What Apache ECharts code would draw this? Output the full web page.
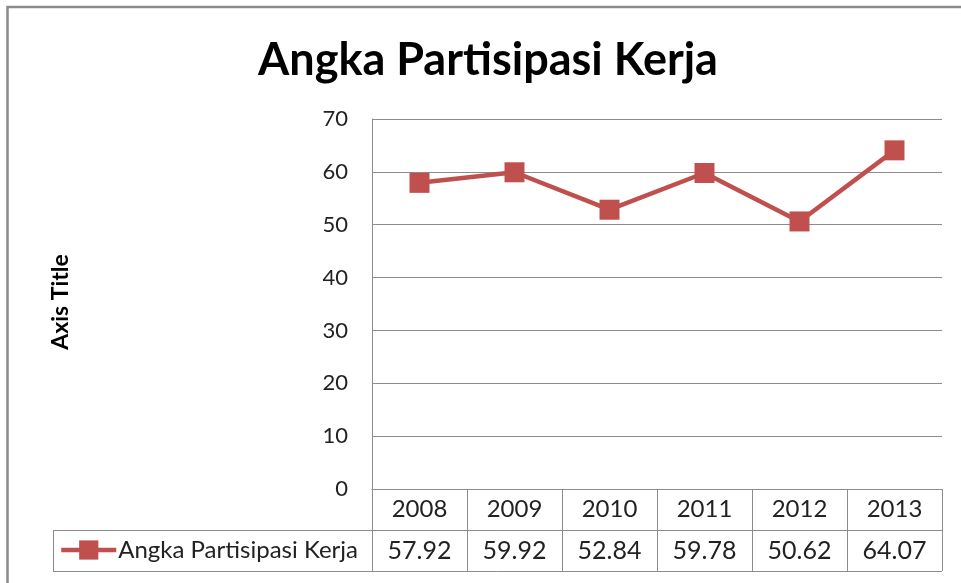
<!DOCTYPE html>
<html>
<head>
<meta charset="utf-8">
<script src="https://cdn.jsdelivr.net/npm/echarts@6/dist/echarts.min.js"></script>
<style>
  html, body { margin: 0; padding: 0; background: #ffffff; }
  #chart { width: 961px; height: 583px; }
</style>
</head>
<body>
<div id="chart"></div>
<script>
// Data
const chartTitle = 'Angka Partisipasi Kerja';
const seriesName = 'Angka Partisipasi Kerja';
const yAxisTitle = 'Axis Title';
const years = ['2008', '2009', '2010', '2011', '2012', '2013'];
const rates = [57.92, 59.92, 52.84, 59.78, 50.62, 64.07];
const yMin = 0;
const yMax = 70;
const yStep = 10;

// Layout
const FONT = 'Lato, "Open Sans", sans-serif';
const W = 961, H = 583;
const plot = { left: 372, right: 942, top: 119, bottom: 489 };
const rowH = 41;
const tableLeft = 53;
const gridColor = '#8c8c8c';
const textColor = '#222222';
const lineColor = '#C0504D';

const chart = echarts.init(document.getElementById('chart'), null, { renderer: 'canvas' });

const rowTop = plot.bottom + rowH;      // top of the value row
const rowBottom = plot.bottom + 2 * rowH;

chart.setOption({
  animation: false,
  backgroundColor: '#ffffff',
  grid: {
    left: plot.left,
    right: W - plot.right,
    top: plot.top,
    bottom: H - plot.bottom,
    containLabel: false
  },
  xAxis: {
    type: 'category',
    data: years,
    boundaryGap: true,
    axisLine: { show: true, lineStyle: { color: gridColor, width: 1 } },
    axisTick: { show: true, length: 2 * rowH, lineStyle: { color: gridColor, width: 1 } },
    axisLabel: {
      margin: 0,
      interval: 0,
      formatter: function (v, i) {
        return '{y|' + v + '}\n{v|' + rates[i].toFixed(2) + '}';
      },
      rich: {
        y: { fontFamily: FONT, fontSize: 24, color: textColor, lineHeight: rowH, height: rowH },
        v: { fontFamily: FONT, fontSize: 25, color: textColor, lineHeight: rowH, height: rowH }
      }
    },
    splitLine: { show: false }
  },
  yAxis: {
    type: 'value',
    min: yMin,
    max: yMax,
    interval: yStep,
    axisLine: { show: true, lineStyle: { color: gridColor, width: 1 } },
    axisTick: { show: false },
    axisLabel: { margin: 24, fontFamily: FONT, fontSize: 22, color: textColor },
    splitLine: { show: true, lineStyle: { color: gridColor, width: 1 } }
  },
  legend: {
    show: true,
    left: 59,
    top: rowTop + 8,
    padding: 0,
    itemWidth: 55,
    itemHeight: 24,
    itemGap: 2,
    lineStyle: { width: 4.5 },
    textStyle: { fontFamily: FONT, fontSize: 24, color: textColor, padding: [0, 0, 0, -3] },
    data: [seriesName]
  },
  series: [{
    name: seriesName,
    type: 'line',
    data: rates,
    symbol: 'rect',
    symbolSize: 20,
    lineStyle: { color: lineColor, width: 4.5 },
    itemStyle: { color: lineColor },
    emphasis: { disabled: true }
  }],
  graphic: [
    // outer frame
    { type: 'rect', shape: { x: 7.5, y: 7, width: W + 20, height: H + 20 },
      style: { fill: 'none', stroke: '#8a8a8a', lineWidth: 2.5 }, silent: true },
    // data table border around the legend cell
    { type: 'line', shape: { x1: tableLeft, y1: rowTop + 0.5, x2: plot.right, y2: rowTop + 0.5 },
      style: { stroke: gridColor, lineWidth: 1 }, silent: true },
    { type: 'line', shape: { x1: tableLeft, y1: rowBottom + 0.5, x2: plot.right, y2: rowBottom + 0.5 },
      style: { stroke: gridColor, lineWidth: 1 }, silent: true },
    { type: 'line', shape: { x1: tableLeft + 0.5, y1: rowTop, x2: tableLeft + 0.5, y2: rowBottom + 1 },
      style: { stroke: gridColor, lineWidth: 1 }, silent: true },
    // chart title
    { type: 'text', x: 488, y: 60, silent: true,
      style: { text: chartTitle, fontFamily: FONT, fontWeight: 'bold', fontSize: 45,
               fill: '#000000', align: 'center', verticalAlign: 'middle' } },
    // vertical axis title
    { type: 'text', x: 61, y: 302, rotation: Math.PI / 2, silent: true,
      style: { text: yAxisTitle, fontFamily: FONT, fontWeight: 'bold', fontSize: 23,
               fill: '#000000', align: 'center', verticalAlign: 'middle' } }
  ]
});
</script>
</body>
</html>
